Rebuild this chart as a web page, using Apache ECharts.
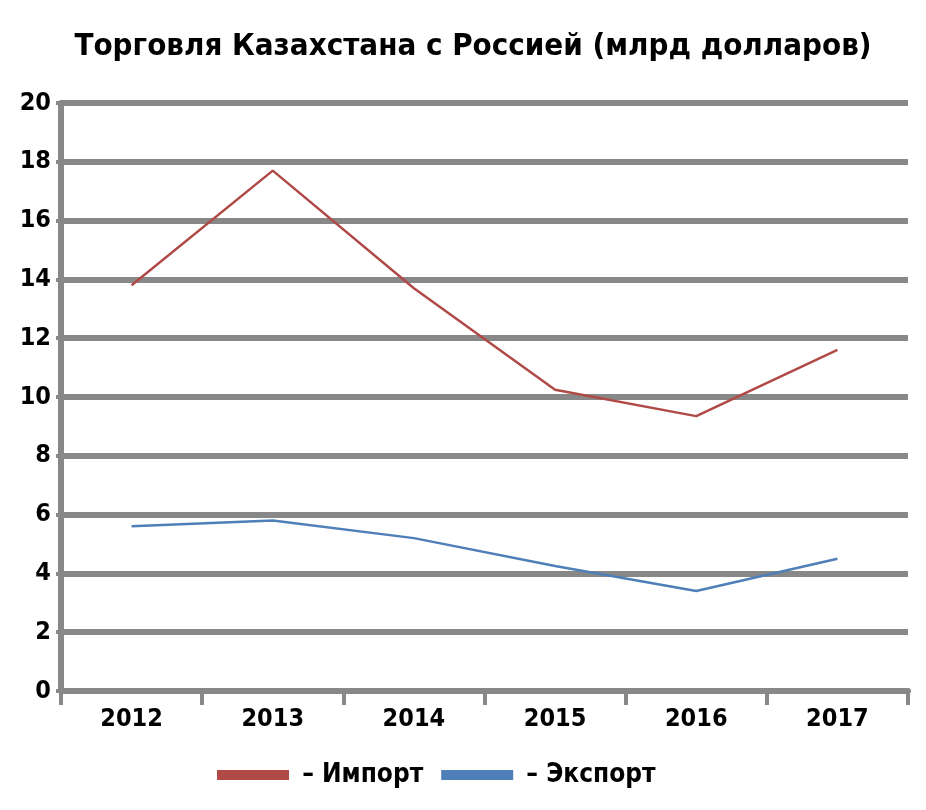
<!DOCTYPE html>
<html><head><meta charset="utf-8">
<script src="https://cdn.jsdelivr.net/npm/echarts@6/dist/echarts.min.js"></script>
<style>html,body{margin:0;padding:0;background:#fff}#c{width:926px;height:810px}</style>
</head><body><div id="c"></div>
<script>
var years = ['2012','2013','2014','2015','2016','2017'];
var importVals = [13.8, 17.7, 13.7, 10.25, 9.35, 11.6];
var exportVals = [5.6, 5.8, 5.2, 4.25, 3.4, 4.5];
var FONT = '"DejaVu Sans Condensed", "Liberation Sans Narrow", sans-serif';
var chart = echarts.init(document.getElementById('c'));
chart.setOption({
  animation: false,
  backgroundColor: '#fff',
  title: {
    text: 'Торговля Казахстана с Россией (млрд долларов)',
    left: 468, textAlign: 'center', top: 26,
    textStyle: {fontFamily: FONT, fontWeight: 'bold', fontSize: 31, color: '#000'}
  },
  legend: {
    bottom: 17, left: 212, itemGap: 18,
    icon: 'rect', itemWidth: 72, itemHeight: 10,
    formatter: function(n){ return ' – ' + n; },
    textStyle: {fontFamily: FONT, fontWeight: 'bold', fontSize: 26, color: '#000'},
    data: ['Импорт','Экспорт']
  },
  grid: {left: 61, right: 18, top: 103, bottom: 119},
  xAxis: {
    type: 'category', data: years, boundaryGap: true,
    axisLine: {lineStyle: {color: '#888', width: 6}},
    axisTick: {show: true, interval: 0, length: 14, lineStyle: {color: '#888', width: 4}},
    axisLabel: {interval: 0, margin: 16, fontFamily: FONT, fontWeight: 'bold', fontSize: 25, color: '#000'}
  },
  yAxis: {
    type: 'value', min: 0, max: 20, interval: 2,
    axisLine: {show: true, lineStyle: {color: '#888', width: 6}},
    axisTick: {show: true, length: 5, lineStyle: {color: '#888', width: 4}},
    axisLabel: {margin: 10, fontFamily: FONT, fontWeight: 'bold', fontSize: 25, color: '#000'},
    splitLine: {lineStyle: {color: '#888', width: 6}}
  },
  series: [
    {name: 'Импорт', type: 'line', data: importVals, symbol: 'none',
     lineStyle: {color: '#b04a47', width: 2.5}, itemStyle: {color: '#b04a47'}},
    {name: 'Экспорт', type: 'line', data: exportVals, symbol: 'none',
     lineStyle: {color: '#4f7fb8', width: 2.5}, itemStyle: {color: '#4f7fb8'}}
  ]
});
</script></body></html>
